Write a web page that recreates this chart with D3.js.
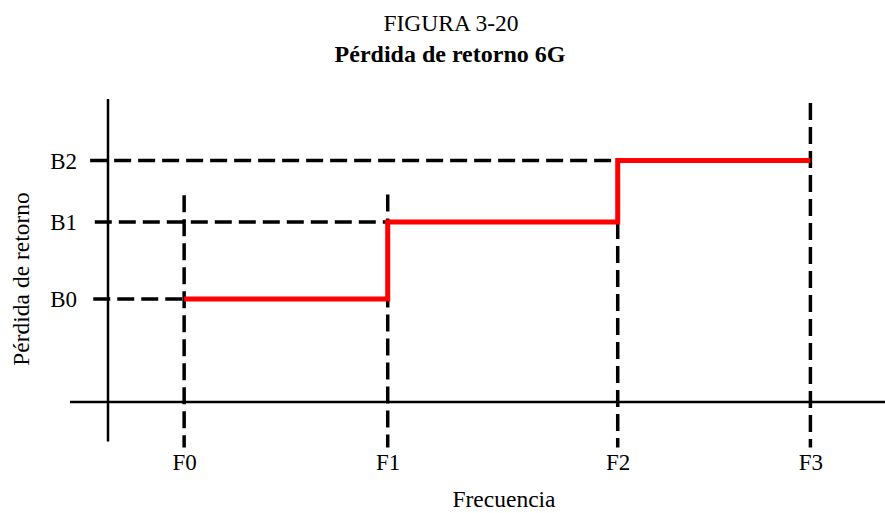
<!DOCTYPE html>
<html>
<head>
<meta charset="utf-8">
<script src="https://cdn.jsdelivr.net/npm/d3@7"></script>
<style>
  html, body { margin: 0; padding: 0; background: #fff; }
  svg { display: block; }
  text { font-family: "Liberation Serif", "Times New Roman", serif; fill: #000; }
</style>
</head>
<body>
<svg id="chart" width="885" height="513"></svg>
<script>
// ---- data ----
const freqLabels = ["F0", "F1", "F2", "F3"];
const freqValues = [9.8, 36.0, 65.6, 90.4];      // position on frequency axis (arbitrary units)
const levelLabels = ["B0", "B1", "B2"];
const levelValues = [34.0, 59.4, 79.7];           // return-loss levels (arbitrary units)
const stepLevels = [0, 1, 2];                      // level index between F[i] and F[i+1]

const titleText = "FIGURA 3-20";
const subtitleText = "Pérdida de retorno 6G";
const xAxisTitle = "Frecuencia";
const yAxisTitle = "Pérdida de retorno";

// ---- layout ----
const svg = d3.select("#chart");
const x = d3.scaleLinear().domain([0, 100]).range([108, 885]);
const y = d3.scaleLinear().domain([0, 100]).range([402, 99]);

const fontSize = 23;

// titles
svg.append("text").attr("x", 451).attr("y", 31)
  .attr("text-anchor", "middle").attr("font-size", 23.5).text(titleText);
svg.append("text").attr("x", 450).attr("y", 62)
  .attr("text-anchor", "middle").attr("font-size", 24).attr("font-weight", "bold").text(subtitleText);

// axes lines (solid)
svg.append("line").attr("x1", x(-4.9)).attr("x2", x(100)).attr("y1", y(0)).attr("y2", y(0))
  .attr("stroke", "#000").attr("stroke-width", 2.5);
svg.append("line").attr("x1", x(0)).attr("x2", x(0)).attr("y1", y(100)).attr("y2", y(-13))
  .attr("stroke", "#000").attr("stroke-width", 2.5);

const dash = "17,7";
const dashW = 3.5;

// horizontal dashed guides: from F index line back to left of y axis
const hGuides = [
  { level: 0, toF: 0, left: -1.9 },
  { level: 1, toF: 1, left: -1.7 },
  { level: 2, toF: 3, left: -2.3 }
];
svg.append("g").selectAll("line").data(hGuides).join("line")
  .attr("x1", d => x(d.left))
  .attr("x2", d => x(freqValues[d.toF]))
  .attr("y1", d => y(levelValues[d.level]))
  .attr("y2", d => y(levelValues[d.level]))
  .attr("stroke", "#000").attr("stroke-width", dashW).attr("stroke-dasharray", dash);

// vertical dashed guides
const vGuides = [
  { f: 0, top: 68.2, bottom: -15 },
  { f: 1, top: 68.5, bottom: -15 },
  { f: 2, top: 59.4, bottom: -15 },
  { f: 3, top: 98.7, bottom: -15 }
];
svg.append("g").selectAll("line").data(vGuides).join("line")
  .attr("x1", d => x(freqValues[d.f]))
  .attr("x2", d => x(freqValues[d.f]))
  .attr("y1", d => y(d.top))
  .attr("y2", d => y(d.bottom))
  .attr("stroke", "#000").attr("stroke-width", dashW).attr("stroke-dasharray", dash);

// red step line
const stepPts = [];
stepLevels.forEach((li, i) => {
  stepPts.push([freqValues[i], levelValues[li]]);
  stepPts.push([freqValues[i + 1], levelValues[li]]);
});
const line = d3.line().x(d => x(d[0])).y(d => y(d[1]));
svg.append("path").attr("d", line(stepPts))
  .attr("fill", "none").attr("stroke", "#ff0000").attr("stroke-width", 5)
  .attr("stroke-linejoin", "miter");

// x tick labels via axis
const xAxis = d3.axisBottom(x).tickValues(freqValues)
  .tickFormat((d, i) => freqLabels[i]).tickSize(0).tickPadding(68);
const gx = svg.append("g").attr("transform", `translate(0,${y(0)})`).call(xAxis);
gx.select(".domain").remove();
gx.selectAll("text").attr("font-size", fontSize).attr("font-family", "Liberation Serif").attr("fill", "#000").attr("dy", 0);

// y tick labels via axis
const yAxis = d3.axisLeft(y).tickValues(levelValues)
  .tickFormat((d, i) => levelLabels[i]).tickSize(0).tickPadding(31);
const gy = svg.append("g").attr("transform", `translate(${x(0)},0)`).call(yAxis);
gy.select(".domain").remove();
gy.selectAll("text").attr("font-size", fontSize).attr("font-family", "Liberation Serif").attr("fill", "#000").attr("dy", "0.34em");

// axis titles
svg.append("text").attr("x", 504).attr("y", 507)
  .attr("text-anchor", "middle").attr("font-size", 23.5).text(xAxisTitle);
svg.append("text").attr("transform", "translate(29,279) rotate(-90)")
  .attr("text-anchor", "middle").attr("font-size", 23.5).text(yAxisTitle);
</script>
</body>
</html>
